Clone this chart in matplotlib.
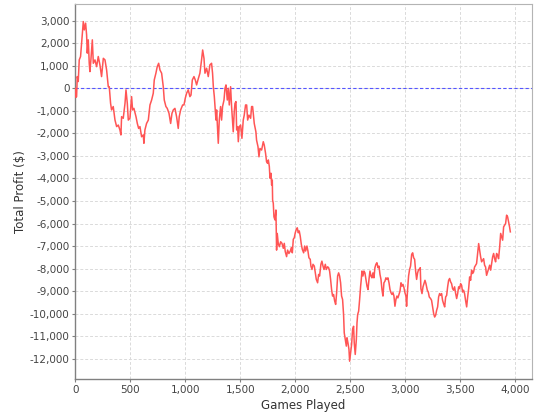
import matplotlib
matplotlib.use("Agg")
import matplotlib.pyplot as plt
from matplotlib.ticker import FuncFormatter, MultipleLocator

# total profit, (games played, $)
games = [0, 6, 12, 18, 27, 36, 48, 58, 67, 73, 82, 94, 103, 109, 118, 127, 133, 142, 155, 164,
         179, 194, 209, 224, 239, 255, 270, 285, 300, 309, 321, 330, 345, 361, 376, 391, 406, 415, 421, 436,
         452, 461, 473, 482, 497, 512, 521, 533, 552, 564, 576, 588, 603, 618, 624, 633, 648, 664, 679, 694,
         709, 718, 733, 745, 758, 770, 785, 800, 809, 824, 836, 852, 867, 879, 891, 906, 921, 936, 945, 958,
         976, 988, 1000, 1012, 1027, 1042, 1052, 1064, 1079, 1091, 1103, 1115, 1133, 1148, 1158,
         1170, 1179, 1194, 1209, 1224, 1239, 1248, 1255, 1264, 1273, 1279, 1285, 1291, 1300, 1309, 1321, 1330, 1339, 1352, 1361,
         1370, 1382, 1391, 1400, 1412, 1421, 1436, 1445, 1452, 1461, 1467, 1476, 1482, 1491, 1503, 1515, 1527, 1536, 1548, 1558,
         1567, 1579, 1594, 1603, 1612, 1618, 1627, 1642, 1648, 1661, 1670, 1679, 1694, 1709, 1718, 1730, 1739, 1748,
         1755, 1764, 1770, 1779, 1785, 1791, 1794, 1800, 1806, 1815, 1824, 1830, 1836, 1845, 1855, 1867, 1879, 1891, 1900, 1909,
         1921, 1930, 1942, 1952,
         1955, 1964, 1973, 1982, 1991, 2000, 2009, 2018, 2027, 2036, 2045, 2055, 2064, 2076, 2085, 2094, 2106, 2115, 2124, 2136,
         2142, 2152, 2161, 2173, 2182, 2191, 2203, 2212, 2221, 2233, 2242, 2252, 2261, 2273, 2282, 2294, 2303, 2312, 2321, 2330,
         2339, 2348, 2358, 2367, 2376, 2385, 2394, 2403, 2412, 2421, 2430, 2439, 2445, 2455, 2464, 2470, 2479, 2488, 2494, 2503,
         2512, 2521, 2530, 2536, 2545, 2555, 2561, 2567, 2576, 2585, 2594, 2600, 2606, 2615, 2624, 2633, 2642, 2652, 2661, 2670,
         2679, 2688, 2697, 2706, 2715, 2724, 2733, 2742, 2752, 2761, 2770, 2779, 2788, 2797, 2806, 2815, 2824, 2833, 2842, 2852,
         2861, 2870, 2879, 2888, 2897, 2906, 2915, 2924, 2933, 2942, 2952, 2961, 2970, 2979, 2988, 2997, 3006, 3012, 3021, 3030,
         3039, 3048, 3058, 3067, 3076, 3085, 3094, 3103, 3112, 3121, 3130, 3136,
         3142, 3152, 3161, 3170, 3179, 3188, 3200, 3209, 3218, 3230, 3239, 3248, 3258, 3267, 3276, 3285, 3294, 3303, 3312, 3321,
         3330, 3339, 3348, 3358, 3367, 3376, 3385, 3394, 3403, 3412, 3421, 3430, 3439, 3448, 3458, 3467, 3476, 3485, 3494, 3503,
         3512, 3521, 3530, 3539, 3548, 3558, 3567, 3576, 3585, 3594, 3603, 3612, 3621, 3630, 3639, 3648, 3658, 3667, 3676, 3685,
         3694, 3703, 3712, 3721, 3730, 3739, 3748, 3758, 3767, 3776, 3785, 3794, 3803, 3812, 3821, 3830, 3839, 3848, 3858, 3867,
         3876, 3885, 3894, 3903, 3912, 3921, 3930, 3939, 3948, 3955]
profit = [0, -400, -370, 520, 300, 1260, 1410, 2000, 2590, 2960, 2590, 2890, 2370, 1560, 2150, 1110, 740, 1260, 2150, 1110,
          1260, 960, 1410, 1040, 520, 1330, 1260, 810, 70, 70, -670, -960, -810, -1410, -1700, -1630, -1850, -2070, -1260, -1330,
          -670, -70, -670, -1410, -1330, -370, -960, -890, -1260, -1560, -1780, -1700, -2150, -2070, -2440, -1850, -1560, -1410, -740, -520,
          -220, 370, 670, 960, 1110, 810, 670, 70, -520, -810, -890, -1110, -1560, -1110, -960, -890, -1260, -1780, -1260, -960,
          -740, -740, -440, -220, -70, -370, -300, 370, 520, 370, 150, 370, 670, 1260, 1700,
          1330, 670, 890, 520, 1040, 1110, 670, 70, -370, -960, -1410, -960, -1560, -2440, -1410, -810, -1410, -810, -520, 0,
          150, -520, 0, -740, 70, -810, -1930, -1040, -670, -590, -1850, -1700, -2370, -1700, -1630, -2220, -1410, -1190, -740, -740,
          -1410, -1190, -1330, -810, -810, -1110, -1560, -1930, -2300, -2590, -3040, -2670, -2740, -2370, -2520, -2890, -3260, -3330,
          -3180, -3470, -3990, -3770, -4290, -4070, -4960, -5100, -5700, -5840, -5400, -7180, -6440, -6880, -7030, -6810, -6880, -7100, -6880, -7250,
          -7470, -7180, -7330, -7250,
          -7220, -7070, -7300, -6700, -6630, -6410, -6260, -6190, -6410, -6330, -6560, -6930, -7150, -7300, -7000, -7220, -7000, -7220, -7520, -7590,
          -7890, -8040, -7810, -7890, -8190, -8480, -8630, -8260, -8330, -7810, -7670, -7890, -8040, -7810, -8040, -7920, -7960, -8110, -8480, -8930,
          -9220, -9150, -9440, -9590, -9070, -8330, -8190, -8330, -8630, -9220, -9370, -10040, -10850, -11150, -11440, -11070, -11300, -11590, -12110, -11740,
          -11370, -10700, -10560, -11300, -11810, -11150, -10410, -10040, -9890, -9370, -8780, -8480, -8110, -8330, -8110, -8190, -8480, -8780, -8930, -8480,
          -8110, -8330, -8410, -8190, -8410, -7960, -7810, -7740, -7960, -7890, -8260, -8480, -8930, -9220, -8630, -8560, -8410, -8480, -8410, -8630,
          -8930, -9070, -9150, -9070, -9220, -9670, -9370, -9220, -9300, -9150, -9000, -8630, -8780, -8700, -8850, -9070, -9220, -9670, -8930, -8330,
          -8040, -7890, -7370, -7300, -7520, -7590, -8110, -8480, -8190, -8040, -8040, -7960,
          -8890, -9110, -8810, -8670, -8520, -8670, -8960, -9040, -9260, -9330, -9410, -9700, -10000, -10150, -10070, -9850, -9700, -9260, -9110, -9190,
          -9110, -9410, -9560, -9700, -9260, -9190, -8810, -8520, -8440, -8590, -8670, -8890, -8960, -8810, -9110, -9330, -9110, -8810, -8890, -8670,
          -8740, -9040, -8960, -9110, -9410, -9700, -9260, -8890, -8370, -8520, -8070, -8220, -8150, -7930, -7850, -7780, -7330, -6890, -7190, -7480,
          -7700, -7630, -7560, -7850, -7930, -8300, -8150, -8000, -7850, -8070, -7780, -7480, -7330, -7560, -7700, -7330, -7410, -7560, -7040, -6440,
          -6590, -6740, -6150, -6070, -6000, -5630, -5700, -5930, -6150, -6370]


def thousands(v, pos):
    return f"{int(round(v)):,}"


fig = plt.figure(figsize=(5.4, 4.2), dpi=100)
ax = fig.add_axes([0.1394, 0.0976, 0.8458, 0.8922])

ax.plot(games, profit, color='#FF5555', lw=1.1, zorder=3)
ax.axhline(0, color='#5555FF', lw=0.8, ls=(0, (3, 2)), zorder=2)

ax.set_xlim(0, 4152)
ax.set_ylim(-12900, 3728)
ax.xaxis.set_major_locator(MultipleLocator(500))
ax.yaxis.set_major_locator(MultipleLocator(1000))
ax.xaxis.set_major_formatter(FuncFormatter(thousands))
ax.yaxis.set_major_formatter(FuncFormatter(thousands))

ax.grid(True, color='#dadada', ls=(0, (3, 2)), lw=0.7)
ax.set_axisbelow(True)

for side in ('top', 'right'):
    ax.spines[side].set_color('#b4b4b4')
    ax.spines[side].set_linewidth(0.8)
for side in ('left', 'bottom'):
    ax.spines[side].set_color('#808080')
    ax.spines[side].set_linewidth(1.0)

ax.tick_params(direction='out', length=2, width=0.8, color='#808080',
               labelsize=7.5, labelcolor='#444444', pad=2)

ax.set_xlabel('Games Played', fontsize=8.5, color='#333333', labelpad=3)
ax.set_ylabel('Total Profit ($)', fontsize=8.5, color='#333333', labelpad=2)

fig.savefig('out.png', dpi=100)
